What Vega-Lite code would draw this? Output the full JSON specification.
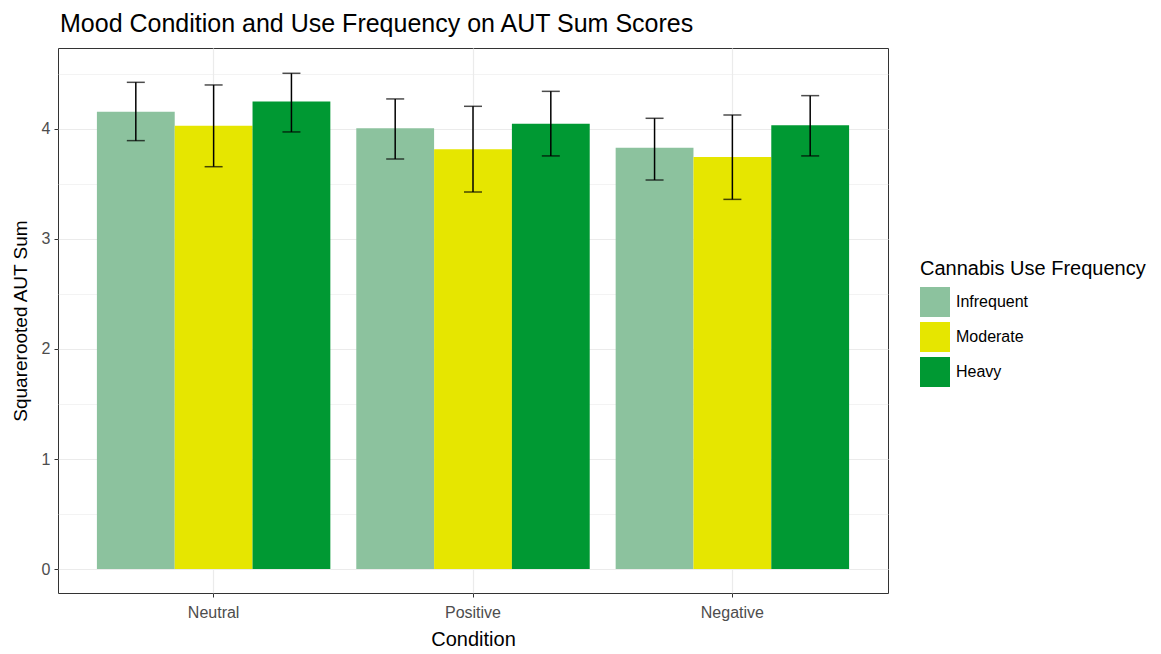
{
  "$schema": "https://vega.github.io/schema/vega-lite/v6.json",
  "autosize": {"type": "none"},
  "padding": {"left": 58, "top": 48, "right": 273, "bottom": 61},
  "width": 830,
  "height": 545,
  "background": "white",
  "title": {
    "text": "Mood Condition and Use Frequency on AUT Sum Scores",
    "anchor": "start",
    "frame": "group",
    "font": "Liberation Sans",
    "fontSize": 25,
    "fontWeight": "normal",
    "color": "#000000",
    "offset": 11,
    "dx": 2
  },
  "config": {
    "view": {"stroke": "#333333", "strokeWidth": 1},
    "font": "Liberation Sans"
  },
  "data": {
    "values": [
      {"Condition": "Neutral", "Frequency": "Infrequent", "mean": 4.157, "lo": 3.894, "hi": 4.424},
      {"Condition": "Neutral", "Frequency": "Moderate", "mean": 4.03, "lo": 3.657, "hi": 4.4},
      {"Condition": "Neutral", "Frequency": "Heavy", "mean": 4.25, "lo": 3.973, "hi": 4.506},
      {"Condition": "Positive", "Frequency": "Infrequent", "mean": 4.006, "lo": 3.727, "hi": 4.273},
      {"Condition": "Positive", "Frequency": "Moderate", "mean": 3.815, "lo": 3.427, "hi": 4.206},
      {"Condition": "Positive", "Frequency": "Heavy", "mean": 4.048, "lo": 3.755, "hi": 4.342},
      {"Condition": "Negative", "Frequency": "Infrequent", "mean": 3.83, "lo": 3.536, "hi": 4.097},
      {"Condition": "Negative", "Frequency": "Moderate", "mean": 3.745, "lo": 3.36, "hi": 4.127},
      {"Condition": "Negative", "Frequency": "Heavy", "mean": 4.033, "lo": 3.755, "hi": 4.303}
    ]
  },
  "encoding": {
    "x": {
      "field": "Condition",
      "type": "nominal",
      "sort": ["Neutral", "Positive", "Negative"],
      "scale": {"paddingInner": 0.1, "paddingOuter": 0.15},
      "axis": {
        "title": "Condition",
        "titleFont": "Liberation Sans",
        "titleFontSize": 20,
        "titleFontWeight": "normal",
        "titleColor": "#000000",
        "titlePadding": 9,
        "labelAngle": 0,
        "labelFontSize": 16,
        "labelColor": "#4D4D4D",
        "labelPadding": 7,
        "tickSize": 4,
        "tickColor": "#333333",
        "domain": false,
        "grid": true,
        "gridColor": "#EBEBEB",
        "gridWidth": 1.2
      }
    },
    "xOffset": {
      "field": "Frequency",
      "type": "nominal",
      "sort": ["Infrequent", "Moderate", "Heavy"],
      "scale": {"paddingInner": 0, "paddingOuter": 0}
    }
  },
  "layer": [
    {
      "mark": {"type": "bar"},
      "encoding": {
        "y": {
          "field": "mean",
          "type": "quantitative",
          "scale": {"domain": [-0.218, 4.736], "nice": false, "zero": false},
          "axis": {
            "title": "Squarerooted AUT Sum",
            "titleFont": "Liberation Sans",
            "titleFontSize": 19,
            "titleFontWeight": "normal",
            "titleColor": "#000000",
            "titlePadding": 11,
            "values": [0, 0.5, 1, 1.5, 2, 2.5, 3, 3.5, 4, 4.5],
            "labelExpr": "datum.value % 1 == 0 ? format(datum.value, 'd') : ''",
            "labelFontSize": 16,
            "labelColor": "#4D4D4D",
            "labelPadding": 4,
            "tickSize": 4,
            "tickColor": "#333333",
            "tickOpacity": {"condition": {"test": "datum.value % 1 == 0", "value": 1}, "value": 0},
            "domain": false,
            "grid": true,
            "gridColor": "#EBEBEB",
            "gridWidth": {"condition": {"test": "datum.value % 1 == 0", "value": 1.2}, "value": 0.6}
          }
        },
        "y2": {"datum": 0},
        "color": {
          "field": "Frequency",
          "type": "nominal",
          "sort": ["Infrequent", "Moderate", "Heavy"],
          "scale": {"domain": ["Infrequent", "Moderate", "Heavy"], "range": ["#8CC29E", "#E6E600", "#009933"]},
          "legend": {
            "title": "Cannabis Use Frequency",
            "orient": "none",
            "legendX": 862,
            "legendY": 211,
            "titleFont": "Liberation Sans",
            "titleFontSize": 20,
            "titleFontWeight": "normal",
            "titleColor": "#000000",
            "titleLimit": 400,
            "titlePadding": 8,
            "labelFont": "Liberation Sans",
            "labelFontSize": 16,
            "labelColor": "#000000",
            "labelOffset": 6,
            "labelLimit": 300,
            "symbolType": "square",
            "symbolSize": 900,
            "symbolStrokeWidth": 0,
            "symbolOpacity": 1,
            "rowPadding": 5
          }
        }
      }
    },
    {
      "mark": {"type": "rule", "color": "#000000", "strokeWidth": 1.5},
      "encoding": {
        "y": {"field": "lo", "type": "quantitative"},
        "y2": {"field": "hi"}
      }
    },
    {
      "mark": {"type": "tick", "color": "#000000", "orient": "horizontal", "size": 18, "thickness": 1.5},
      "encoding": {
        "y": {"field": "lo", "type": "quantitative"}
      }
    },
    {
      "mark": {"type": "tick", "color": "#000000", "orient": "horizontal", "size": 18, "thickness": 1.5},
      "encoding": {
        "y": {"field": "hi", "type": "quantitative"}
      }
    }
  ]
}
